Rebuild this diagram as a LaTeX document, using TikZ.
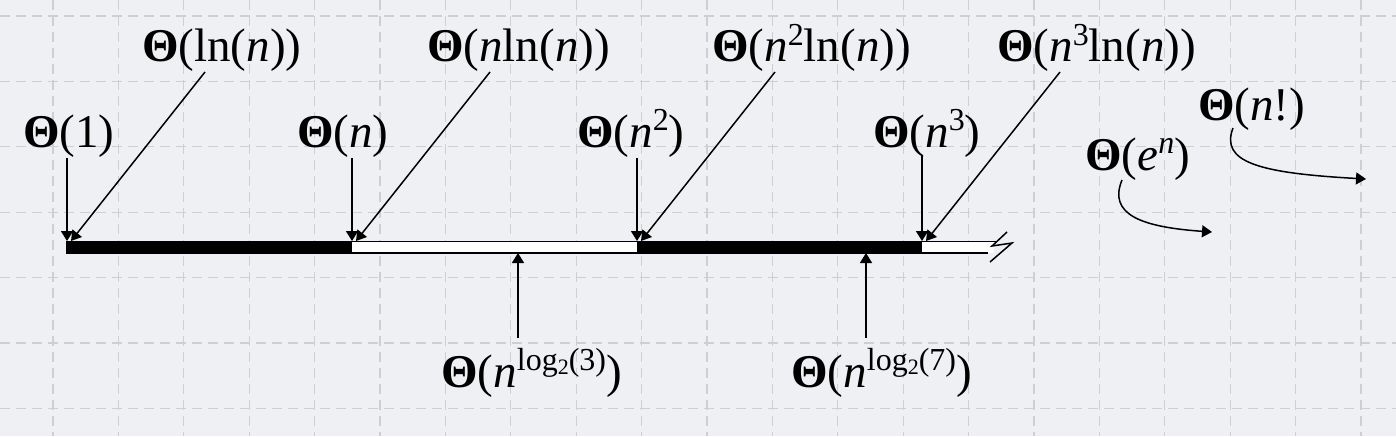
\documentclass[tikz,border=0pt]{standalone}
\usepackage{fontspec}
\setmainfont{Liberation Serif}
\usetikzlibrary{arrows.meta,calc}
\definecolor{bgc}{RGB}{239,240,244}
\definecolor{gridc}{RGB}{206,206,213}
\newcommand\supx[1]{\raisebox{0.36em}{\fontsize{32}{32}\selectfont #1}}
\newcommand\subx[1]{\raisebox{-0.14em}{\fontsize{22}{22}\selectfont #1}}
\newcommand\Th{\textbf{Θ}}
\newcommand\nn{\textit{n}}
\begin{document}
\begin{tikzpicture}[x=1pt,y=-1pt,
  lab/.style={inner sep=0pt,anchor=base west,font={\fontsize{47}{56}\selectfont}},
  arr/.style={line width=1.5pt,-{Triangle[length=10pt,width=12pt]}},
  gridline/.style={gridc,line width=1.3pt,dash pattern=on 10pt off 6pt},
  barline/.style={line width=1.8pt}]
\fill[bgc] (0,0) rectangle (1396,436);
\useasboundingbox (0,0) rectangle (1396,436);
% grid
\foreach \i in {0,...,20} \draw[gridline] ({53+65.4*\i},0) -- ({53+65.4*\i},436);
\foreach \j in {0,...,6} \draw[gridline] (0,{16+65.4*\j}) -- (1396,{16+65.4*\j});
% axis bar
\coordinate (c0) at (67,241);
\coordinate (c1) at (352,241);
\coordinate (c2) at (637,241);
\coordinate (c3) at (922,241);
\coordinate (b1) at (518,253);
\coordinate (b2) at (866,253);
\fill[white] (352,241) rectangle (637,253);
\fill[white] (922,241) rectangle (994,253);
\draw[barline] (352,241.5) -- (637,241.5) (352,253) -- (637,253);
\draw[barline] (922,241.5) -- (997,241.5) (922,253) -- (988,253);
\draw[line width=1.5pt] (1007,232) -- (992,246) -- (1012,243) -- (990,262);
\fill (66,240.5) rectangle (352,254);
\fill (637,240.5) rectangle (922,254);
% labels
\node[lab] (l1)   at (23,147)  {\Th(1)};
\node[lab] (lln)  at (142,62)  {\Th(ln(\nn))};
\node[lab] (ln)   at (297,147) {\Th(\nn)};
\node[lab] (lnln) at (427,62)  {\Th(\nn ln(\nn))};
\node[lab] (ln2)  at (577,147) {\Th(\nn\supx{2})};
\node[lab] (ln2l) at (712,62)  {\Th(\nn\supx{2}ln(\nn))};
\node[lab] (ln3)  at (873,147) {\Th(\nn\supx{3})};
\node[lab] (ln3l) at (997,62)  {\Th(\nn\supx{3}ln(\nn))};
\node[lab] (le)   at (1085,170) {\Th(\textit{e}\supx{\textit{n}})};
\node[lab] (lf)   at (1198,120) {\Th(\nn!)};
\node[lab] (lg3)  at (441,387) {\Th(\nn\supx{log\subx{2}(3)})};
\node[lab] (lg7)  at (791,387) {\Th(\nn\supx{log\subx{2}(7)})};
% vertical arrows
\draw[arr] ($(l1.base -| c0)+(0,11)$) -- (c0);
\draw[arr] ($(ln.base -| c1)+(0,11)$) -- (c1);
\draw[arr] ($(ln2.base -| c2)+(0,11)$) -- (c2);
\draw[arr] ($(ln3.base -| c3)+(0,9)$) -- (c3);
% diagonal arrows
\draw[arr] ($(lln.base west)+(63,10)$) -- ($(c0)+(4,0)$);
\draw[arr] ($(lnln.base west)+(63,10)$) -- ($(c1)+(4,0)$);
\draw[arr] ($(ln2l.base west)+(63,10)$) -- ($(c2)+(4,0)$);
\draw[arr] ($(ln3l.base west)+(63,10)$) -- ($(c3)+(4,0)$);
% lower arrows
\draw[arr] ($(lg3.base -| b1)+(0,-49)$) -- (b1);
\draw[arr] ($(lg7.base -| b2)+(0,-49)$) -- (b2);
% curved arrows
\coordinate (te) at (1212,232);
\coordinate (tf) at (1366,179);
\draw[arr] ($(le.base west)+(37,10)$) .. controls (1108,214) and (1140,227) .. (te);
\draw[arr] ($(lf.base west)+(35,8)$) .. controls (1220,162) and (1258,173) .. (tf);
\end{tikzpicture}
\end{document}
